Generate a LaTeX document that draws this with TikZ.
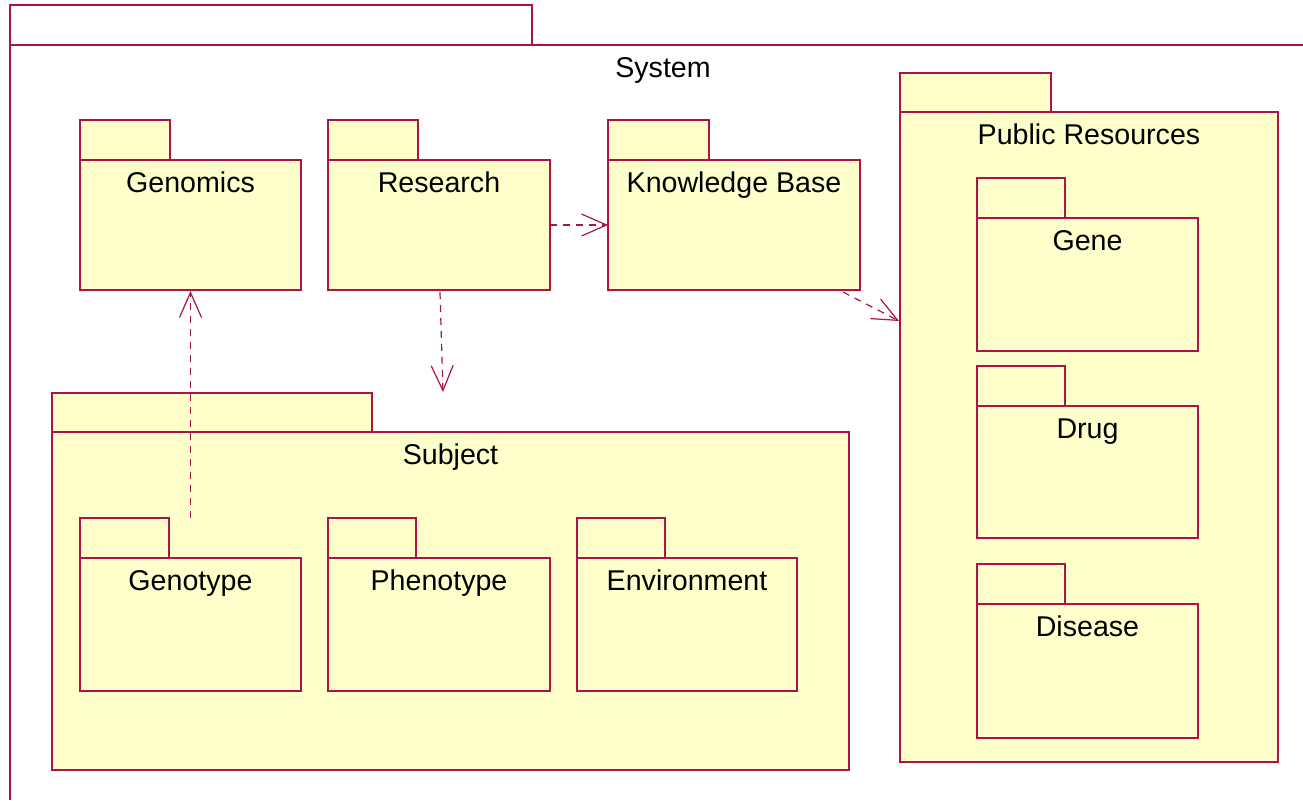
\documentclass[tikz,border=0pt]{standalone}
\usepackage{fontspec}
\setmainfont{Liberation Sans}
\usetikzlibrary{arrows.meta,fit,calc}
\definecolor{pkgline}{RGB}{170,20,70}
\definecolor{pkgfill}{RGB}{255,255,204}

% UML package: id, left x, tab top y, tab right x, body top y, right x, bottom y, name
\newcommand\umlpkg[8]{%
  \path[pkgtab] (#2,#3) rectangle (#4,#5);
  \node[pkgbody, fit={(#2,#5) (#6,#7)}] (#1) {};
  \node[pkglabel] (#1-label) at ($(#1.north)+(0,32)$) {#8};
}

\begin{document}
\begin{tikzpicture}[x=0.5pt,y=-0.5pt,
  pkgbody/.style={draw=pkgline, fill=pkgfill, line width=0.6pt, inner sep=0pt, outer sep=0pt},
  pkgtab/.style={draw=pkgline, fill=pkgfill, line width=0.6pt},
  pkglabel/.style={font=\fontsize{14.3}{17}\selectfont, anchor=base, inner sep=0pt},
  dep/.style={draw=pkgline, line width=0.6pt, dash pattern=on 3.5pt off 3pt,
    -{Straight Barb[length=12.5pt,width=11pt,line width=0.6pt]}}]
  \useasboundingbox (0,0) rectangle (1303,800);

  % enclosing System package
  \draw[pkgline, line width=0.6pt] (10,45) rectangle (532,5);
  \draw[pkgline, line width=0.6pt] (1303,45) -- (10,45) -- (10,800);
  \coordinate (system-top) at (663,45);
  \node[pkglabel] (system-label) at ($(system-top)+(0,32)$) {System};

  % top row
  \umlpkg{genomics}{80}{120}{170}{160}{301}{290}{Genomics}
  \umlpkg{research}{328}{120}{418}{160}{550}{290}{Research}
  \umlpkg{kb}{608}{120}{709}{160}{860}{290}{Knowledge Base}

  % Public Resources and its contents
  \umlpkg{pubres}{900}{73}{1051}{112}{1278}{762}{Public Resources}
  \umlpkg{gene}{977}{178}{1065}{218}{1198}{351}{Gene}
  \umlpkg{drug}{977}{366}{1065}{406}{1198}{538}{Drug}
  \umlpkg{disease}{977}{564}{1065}{604}{1198}{738}{Disease}

  % Subject and its contents
  \umlpkg{subject}{52}{393}{372}{432}{849}{770}{Subject}
  \umlpkg{genotype}{80}{518}{169}{558}{301}{691}{Genotype}
  \umlpkg{phenotype}{328}{518}{416}{558}{550}{691}{Phenotype}
  \umlpkg{environment}{577}{518}{665}{558}{797}{691}{Environment}

  % dependencies
  \draw[dep] (research.east) -- (kb.west);
  \draw[dep] ($(kb.south east)+(-17,2)$) -- ($(pubres.north west)+(-1,209)$);
  \draw[dep] ($(research.south)+(1,2)$) -- ($(subject.north)+(-7.5,-40)$);
  \draw[dep] ($(genotype.north)+(0,-40)$) -- ($(genomics.south)+(0,1)$);
\end{tikzpicture}
\end{document}
